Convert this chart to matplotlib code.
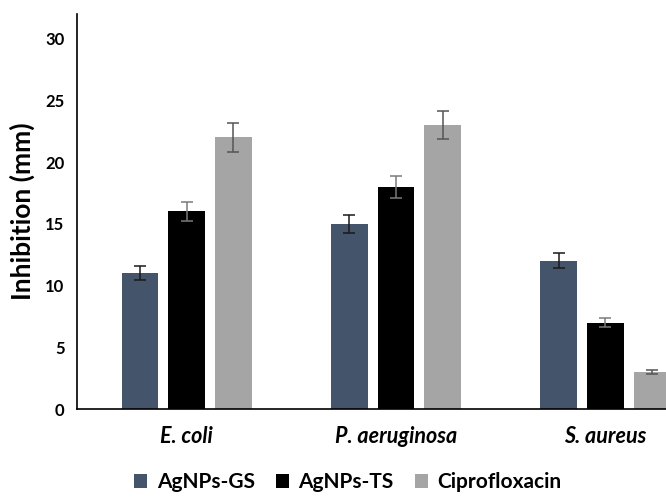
import matplotlib.pyplot as plt
import numpy as np

plt.rcParams['font.family'] = ['Lato', 'DejaVu Sans']

bacteria = ['E. coli', 'P. aeruginosa', 'S. aureus']
series = ['AgNPs-GS', 'AgNPs-TS', 'Ciprofloxacin']
gs = [11, 15, 12]
ts = [16, 18, 7]
cipro = [22, 23, 3]
gs_err = [0.55, 0.75, 0.6]
ts_err = [0.8, 0.9, 0.35]
cipro_err = [1.15, 1.15, 0.2]

colors = ['#44546A', '#000000', '#A5A5A5']
err_colors = ['#1a1a1a', '#7a7a7a', '#555555']

fig = plt.figure(figsize=(6.66, 5.03), dpi=100)
ax = fig.add_axes([77 / 666, 94 / 503, 589 / 666, 395 / 503])

x = np.arange(len(bacteria))
width = 0.175
step = 0.223
for i, (vals, errs) in enumerate(zip([gs, ts, cipro], [gs_err, ts_err, cipro_err])):
    ax.bar(x + (i - 1) * step, vals, width, color=colors[i], label=series[i],
           yerr=errs, error_kw=dict(ecolor=err_colors[i], elinewidth=1.1,
                                    capsize=4, capthick=1.1), zorder=2)

ax.set_xlim(-0.523, 2.289)
ax.set_ylim(0, 32)
ax.set_yticks(range(0, 31, 5))
ax.set_xticks(x)
ax.set_xticklabels(bacteria, fontsize=15.5, fontweight='bold', style='italic')
ax.tick_params(axis='x', length=0, pad=12)
ax.tick_params(axis='y', length=0, pad=9, labelsize=12)
for lab in ax.get_yticklabels():
    lab.set_fontweight('bold')

for s in ['top', 'right']:
    ax.spines[s].set_visible(False)
ax.spines['left'].set_linewidth(1.2)
ax.spines['bottom'].set_linewidth(1.2)

ax.set_ylabel('Inhibition (mm)', fontsize=19, fontweight='bold')
ax.yaxis.set_label_coords(-0.072, 0.5)

fig.legend(loc='center', bbox_to_anchor=(0.522, 0.042), ncol=3, frameon=False,
           prop={'size': 15, 'weight': 'bold'}, handlelength=0.65,
           handleheight=0.65, handletextpad=0.45, columnspacing=1.0)

fig.savefig('out.png', dpi=100)
